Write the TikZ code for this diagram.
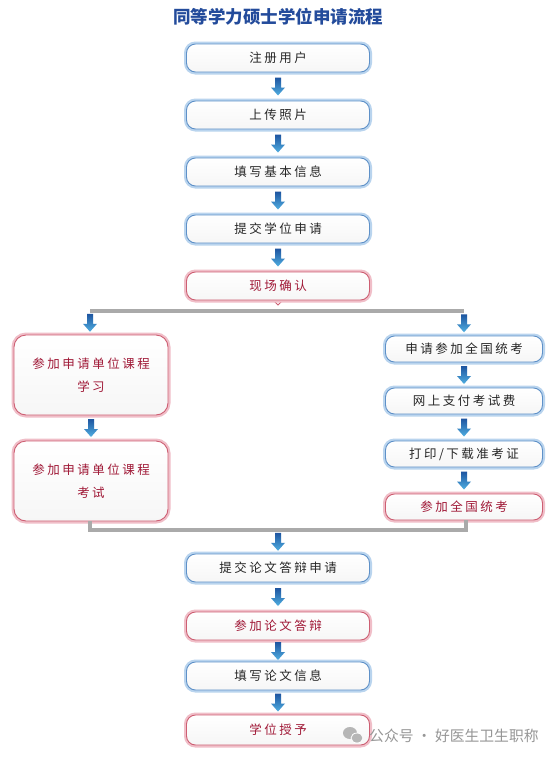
\documentclass[tikz,border=0pt]{standalone}
\usepackage{fontspec}
\newfontfamily\cjk[LetterSpace=20]{Noto Sans CJK SC}
\newfontfamily\cjkt{Noto Sans CJK SC}
\definecolor{bline}{RGB}{95,145,200}
\definecolor{bglow}{RGB}{185,212,238}
\definecolor{rline}{RGB}{205,95,115}
\definecolor{rglow}{RGB}{240,190,200}
\definecolor{rtext}{RGB}{160,25,55}
\definecolor{ttext}{RGB}{35,75,155}
\definecolor{gl}{RGB}{170,170,170}
\definecolor{wm}{RGB}{150,150,150}
\definecolor{adark}{RGB}{30,85,160}
\definecolor{alight}{RGB}{80,175,225}
\tikzset{
  boxbase/.style={rounded corners=9pt, inner sep=0pt, align=center,
    top color=white, bottom color=gray!7,
    font=\cjk\fontsize{12.5}{23}\selectfont},
  bbox/.style={boxbase, draw=bline, line width=0.9pt,
    preaction={draw=bglow, line width=5pt},
    minimum width=183pt, minimum height=28pt, text=black!85},
  rbox/.style={boxbase, draw=rline, line width=0.9pt,
    preaction={draw=rglow, line width=5pt},
    minimum width=183pt, minimum height=28pt, text=rtext},
  lbox/.style={rbox, minimum width=154pt, minimum height=80pt, rounded corners=12pt},
  sbox/.style={bbox, minimum width=157pt, minimum height=26pt},
  srbox/.style={rbox, minimum width=157pt, minimum height=26pt},
  gline/.style={draw=gl, line width=4pt},
  darr/.pic={\shade[top color=adark, bottom color=alight]
     (-3,-9) -- (3,-9) -- (3,1) -- (7,1) -- (0,9) -- (-7,1) -- (-3,1) -- cycle;}
}
\begin{document}
\begin{tikzpicture}[x=1pt,y=-1pt]
\useasboundingbox[fill=white] (0,0) rectangle (555,758);
\node[text=ttext, font=\cjkt\bfseries\fontsize{17.5}{20}\selectfont] (t) at (278,17) {同等学力硕士学位申请流程};
% main column
\node[bbox] (n1) at (278,58) {注册用户};
\node[bbox] (n2) at (278,115) {上传照片};
\node[bbox] (n3) at (278,172) {填写基本信息};
\node[bbox] (n4) at (278,229) {提交学位申请};
\fill[white, draw=rline, line width=0.9pt] (272,299) -- (278,305) -- (284,299);
\node[rbox] (n5) at (278,286) {现场确认};
% split line
\coordinate (sL) at (90,311);
\coordinate (sR) at (464,311);
\draw[gline] (sL) -- (sR);
% left branch
\node[lbox] (l1) at (91,375) {参加申请单位课程\\学习};
\node[lbox] (l2) at (91,481) {参加申请单位课程\\考试};
% right branch
\node[sbox] (r1) at (464,349) {申请参加全国统考};
\node[sbox] (r2) at (464,401) {网上支付考试费};
\node[sbox] (r3) at (464,454) {打印/下载准考证};
\node[srbox] (r4) at (464,507) {参加全国统考};
% join bracket
\coordinate (bL) at (90,530);
\coordinate (bR) at (466,530);
\coordinate (bM) at (278,530);
\draw[gline] (l2.south -| bL) -- (bL) -- (bR) -- (r4.south -| bR);
% lower column
\node[bbox] (m1) at (278,568) {提交论文答辩申请};
\node[rbox] (m2) at (278,626) {参加论文答辩};
\node[bbox] (m3) at (278,676) {填写论文信息};
\node[rbox, minimum height=30pt] (m4) at (278,730) {学位授予};
% arrows
\path (n1.south) -- (n2.north) pic[midway]{darr};
\path (n2.south) -- (n3.north) pic[midway]{darr};
\path (n3.south) -- (n4.north) pic[midway]{darr};
\path (n4.south) -- (n5.north) pic[midway]{darr};
\path (sL) -- (l1.north -| sL) pic[midway]{darr};
\path (sR) -- (r1.north) pic[midway]{darr};
\path (l1.south) -- (l2.north) pic[midway]{darr};
\path (r1.south) -- (r2.north) pic[midway]{darr};
\path (r2.south) -- (r3.north) pic[midway]{darr};
\path (r3.south) -- (r4.north) pic[midway]{darr};
\path (bM) -- (m1.north) pic[midway]{darr};
\path (m1.south) -- (m2.north) pic[midway]{darr};
\path (m2.south) -- (m3.north) pic[midway]{darr};
\path (m3.south) -- (m4.north) pic[midway]{darr};
% watermark
\fill[wm!70] (350,733) ellipse [x radius=7, y radius=6];
\fill[wm!70, draw=white, line width=0.8pt] (357,738) ellipse [x radius=6, y radius=5];
\node[anchor=west, text=wm, font=\cjkt\fontsize{14.8}{16}\selectfont, inner sep=0pt] (w) at (369,736) {公众号 · 好医生卫生职称};
\end{tikzpicture}
\end{document}
